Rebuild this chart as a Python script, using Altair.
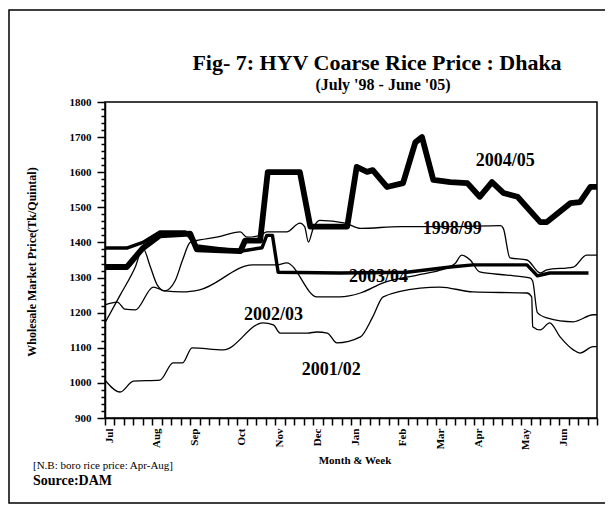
import altair as alt
import pandas as pd

# ---------------- data ----------------
series_names = ["1998/99", "2001/02", "2002/03", "2003/04", "2004/05"]

weeks_9899 = [1.0, 2.6, 4.2, 5.0, 5.8, 6.5, 7.3, 8.4, 9.2, 10.0, 11.0, 12.8, 15.3, 16.0, 17.4,
              18.1, 20.2, 21.6, 22.1, 22.5, 23.0, 23.7, 26.4, 28.0, 32.2, 37.5, 42.8, 43.1,
              43.8, 45.6, 47.0, 47.7, 50.5, 51.9, 53.0]
price_9899 = [1171, 1250, 1330, 1384, 1330, 1280, 1262, 1290, 1350, 1400, 1407, 1415, 1430, 1415,
              1420, 1430, 1430, 1455, 1445, 1401, 1440, 1463, 1455, 1440, 1445, 1445, 1448, 1440,
              1356, 1350, 1313, 1322, 1330, 1364, 1364]

weeks_0102 = [1.0, 2.6, 4.0, 6.8, 8.2, 9.2, 10.2, 13.5, 17.7, 18.8, 19.5, 22.4, 23.4, 24.5, 25.5,
              28.0, 29.3, 30.4, 34.3, 36.4, 39.9, 45.6, 46.1, 46.2, 47.0, 48.0, 49.1, 50.5, 51.2,
              52.6, 53.0]
price_0102 = [1008, 974, 1005, 1008, 1057, 1057, 1100, 1094, 1171, 1165, 1142, 1142, 1145, 1142,
              1114, 1131, 1188, 1245, 1270, 1273, 1259, 1256, 1245, 1160, 1151, 1171, 1131, 1094,
              1085, 1103, 1103]

weeks_0203 = [1.0, 2.3, 3.1, 4.2, 6.1, 7.3, 9.2, 11.0, 16.6, 19.2, 20.2, 23.4, 25.8, 28.0, 30.4,
              34.0, 36.4, 38.0, 38.7, 39.6, 40.6, 43.5, 45.9, 46.2, 46.7, 47.7, 50.5, 52.6, 53.0]
price_0203 = [1222, 1230, 1210, 1208, 1273, 1262, 1259, 1265, 1336, 1336, 1342, 1245, 1245, 1256,
              1285, 1307, 1321, 1340, 1364, 1350, 1316, 1307, 1299, 1290, 1200, 1185, 1174, 1194,
              1194]

weeks_0304 = [1.0, 3.3, 5.0, 6.8, 9.5, 10.7, 15.3, 17.6, 18.1, 18.7, 19.3, 25.8, 32.9, 37.5, 39.9,
              45.6, 46.7, 48.0, 52.1]
price_0304 = [1384, 1384, 1400, 1430, 1430, 1390, 1375, 1385, 1420, 1420, 1315, 1313, 1315, 1330,
              1336, 1336, 1305, 1313, 1313]

weeks_0405 = [1.0, 3.3, 5.0, 6.8, 10.0, 10.7, 15.3, 15.8, 17.4, 18.2, 21.6, 22.7, 26.6, 27.6, 28.7,
              29.3, 30.8, 32.5, 33.8, 34.5, 35.7, 37.5, 39.3, 40.6, 41.9, 43.1, 44.6, 47.0, 47.7,
              50.2, 51.2, 52.3, 53.0]
price_0405 = [1330, 1330, 1384, 1420, 1425, 1380, 1375, 1405, 1405, 1600, 1600, 1445, 1445, 1615,
              1601, 1606, 1558, 1569, 1685, 1700, 1578, 1572, 1569, 1530, 1572, 1541, 1530, 1458,
              1458, 1512, 1515, 1558, 1558]

month_names = ["Jul", "Aug", "Sep", "Oct", "Nov", "Dec", "Jan", "Feb", "Mar", "Apr", "May", "Jun"]
month_start_weeks = [1, 6, 10, 15, 19, 23, 27, 32, 36, 40, 45, 49]
week_ticks = list(range(1, 54))
y_ticks = list(range(900, 1801, 20))

label_texts = ["2004/05", "1998/99", "2003/04", "2002/03", "2001/02"]
label_weeks = [43.3, 37.7, 29.9, 18.8, 24.9]
label_prices = [1632, 1438, 1302, 1193, 1037]

title_text = "Fig- 7: HYV Coarse Rice Price : Dhaka"
subtitle_text = "(July '98 - June '05)"
y_title_text = "Wholesale Market Price(Tk/Quintal)"
x_title_text = "Month & Week"
note_text = "[N.B: boro rice price: Apr-Aug]"
source_text = "Source:DAM"

# ---------------- build ----------------
all_weeks = [weeks_9899, weeks_0102, weeks_0203, weeks_0304, weeks_0405]
all_prices = [price_9899, price_0102, price_0203, price_0304, price_0405]
rows = []
for name, ws, ps in zip(series_names, all_weeks, all_prices):
    rows += [{"series": name, "week": w, "price": p} for w, p in zip(ws, ps)]
df = pd.DataFrame(rows)

labels_df = pd.DataFrame({"label": label_texts, "week": label_weeks, "price": label_prices})

SERIF = "Liberation Serif"

mw = ",".join(str(w) for w in month_start_weeks)
mn = ",".join("'" + m + "'" for m in month_names)
x_label_expr = f"indexof([{mw}], datum.value) >= 0 ? [{mn}][indexof([{mw}], datum.value)] : ''"

x_scale = alt.Scale(domain=[1, 53], nice=False, zero=False)
y_scale = alt.Scale(domain=[900, 1800], nice=False, zero=False)

x_axis = alt.Axis(values=week_ticks, labelExpr=x_label_expr, labelAngle=270,
                  labelFont=SERIF, labelFontWeight="bold", labelFontSize=11, labelColor="black",
                  tickSize=7, tickColor="black", tickWidth=1.5, domainColor="black",
                  domainWidth=1.5, grid=False, title=None, labelOverlap=False, labelFlush=False,
                  labelPadding=3, labelOffset=4)
y_axis = alt.Axis(values=y_ticks, labelExpr="datum.value % 100 === 0 ? format(datum.value, 'd') : ''",
                  labelFont=SERIF, labelFontWeight="bold", labelFontSize=11, labelColor="black",
                  tickSize={"condition": {"test": "datum.value % 100 === 0", "value": 8}, "value": 4},
                  tickColor="black", tickWidth=1.5, domainColor="black", domainWidth=1.5,
                  grid=False, title=None, labelOverlap=False, labelFlush=False, labelPadding=6)

base = alt.Chart(df).encode(
    x=alt.X("week:Q", scale=x_scale, axis=x_axis),
    y=alt.Y("price:Q", scale=y_scale, axis=y_axis),
    detail="series:N",
)

thin = base.transform_filter(
    alt.FieldOneOfPredicate(field="series", oneOf=["1998/99", "2001/02", "2002/03"])
).mark_line(color="black", strokeWidth=1.3, interpolate="monotone")
mid = base.transform_filter(alt.datum.series == "2003/04").mark_line(
    color="black", strokeWidth=3.4, strokeJoin="round")
thick = base.transform_filter(alt.datum.series == "2004/05").mark_line(
    color="black", strokeWidth=5.8, strokeJoin="round")

series_labels = alt.Chart(labels_df).mark_text(
    font=SERIF, fontWeight="bold", fontSize=18, color="black", align="center", baseline="middle"
).encode(
    x=alt.X("week:Q", scale=x_scale, axis=x_axis),
    y=alt.Y("price:Q", scale=y_scale, axis=y_axis),
    text="label:N",
)


def free_text(txt, x, y, size, weight="bold", align="center", angle=0, baseline="alphabetic"):
    kw = dict(font=SERIF, fontWeight=weight, fontSize=size, color="black", align=align,
              baseline=baseline)
    if angle:
        kw["angle"] = angle
    return alt.Chart(pd.DataFrame({"t": [txt]})).mark_text(**kw).encode(
        text="t:N", x=alt.value(x), y=alt.value(y))


title = free_text(title_text, 272, -32, 22)
subtitle = free_text(subtitle_text, 278, -12, 16)
y_title = free_text(y_title_text, -73, 160, 12, angle=270, baseline="middle")
x_title = free_text(x_title_text, 250, 362, 11)
note = free_text(note_text, -72, 367, 11, weight="normal", align="left")
source = free_text(source_text, -72, 383, 14, align="left")

frame = alt.Chart(pd.DataFrame({"a": [0]})).mark_rect(
    fillOpacity=0, stroke="black", strokeWidth=1.5
).encode(x=alt.value(-96), x2=alt.value(510), y=alt.value(-92), y2=alt.value(401))

chart = alt.layer(
    frame, thin, mid, thick, series_labels, title, subtitle, y_title, x_title, note, source
).properties(
    width=492, height=316,
    autosize=alt.AutoSizeParams(type="none"),
    padding={"left": 97, "top": 94, "right": 8, "bottom": 86},
    background="white",
).configure_view(stroke="black", strokeWidth=1.5)

chart.save("out.html", embed_options={"renderer": "svg", "actions": False})
